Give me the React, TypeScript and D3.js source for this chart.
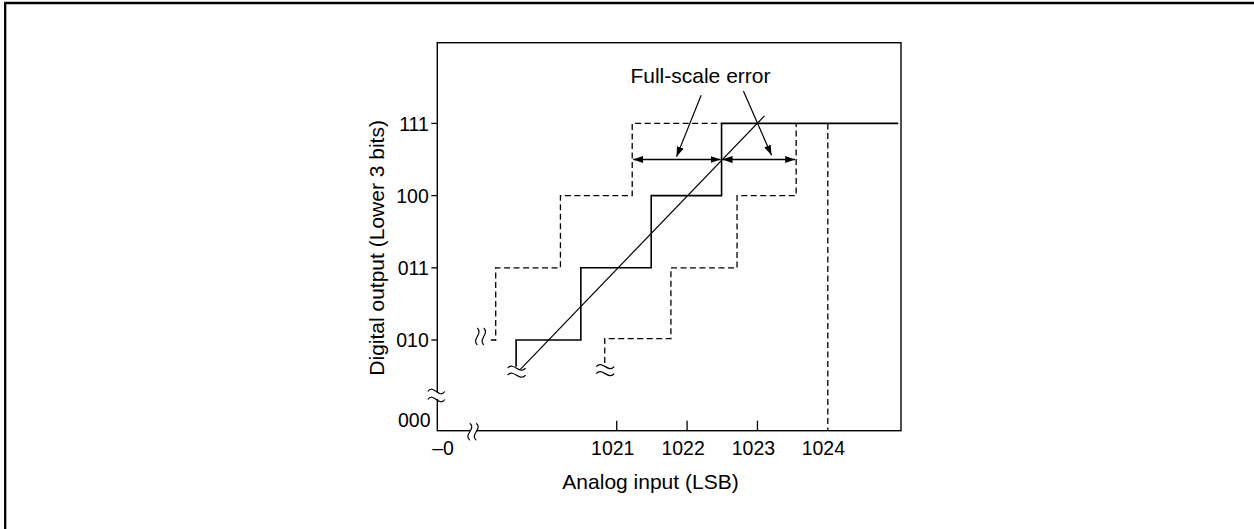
import React from 'react';
import * as d3 from 'd3';

// ---- data ----
const yLevels = [2, 3, 4, 5];
const yCodes = ['010', '011', '100', '111'];
const bottomCode = '000';
const bottomLevel = 0.744;
const xTickValues = [1021, 1022, 1023];
const xTickLabels = ['1021', '1022', '1023'];
const fullScaleValue = 1024;
const fullScaleLabel = '1024';
const originLabel = '\u20130';

const actualSteps: [number, number][] = [
  [1019.57, 1.63], [1019.57, 2], [1020.49, 2], [1020.49, 3], [1021.49, 3],
  [1021.49, 4], [1022.49, 4], [1022.49, 5], [1025.0, 5],
];
const upperLimitSteps: [number, number][] = [
  [1019.21, 2], [1019.28, 2], [1019.28, 3], [1020.2, 3], [1020.2, 4],
  [1021.22, 4], [1021.22, 5], [1022.49, 5],
];
const lowerLimitSteps: [number, number][] = [
  [1020.83, 1.68], [1020.83, 2.02], [1021.77, 2.02], [1021.77, 3], [1022.71, 3],
  [1022.71, 4], [1023.55, 4], [1023.55, 5],
];
const idealLine: [number, number][] = [[1019.63, 1.594], [1023.1, 5.105]];
const errorLevel = 4.5;
const errorSpans: [number, number][] = [[1021.22, 1022.49], [1022.49, 1023.55]];
const calloutText = 'Full-scale error';
const calloutAnchor: [number, number] = [1022.19, 5.555];
const calloutLeaders: [[number, number], [number, number]][] = [
  [[1022.2, 5.39], [1021.85, 4.54]],
  [[1022.8, 5.45], [1023.2, 4.56]],
];
const xTitle = 'Analog input (LSB)';
const yTitle = 'Digital output (Lower 3 bits)';

// ---- layout ----
const W = 1254;
const H = 529;
const FONT = '"Liberation Sans", Arial, Helvetica, sans-serif';

export default function App() {
  const x = d3.scaleLinear().domain([1018.45, 1025.04]).range([437.3, 901]);
  const y = d3.scaleLinear().domain([bottomLevel, 6.118]).range([430.7, 42.7]);
  const line = d3.line<[number, number]>().x((d) => x(d[0])).y((d) => y(d[1]));

  const x0 = x.range()[0];
  const x1 = x.range()[1];
  const yB = y.range()[0];
  const yT = y.range()[1];

  const hWave = (cx: number, cy: number, w: number, h = 8) =>
    `M${cx - w / 2},${cy} C${cx - w / 6},${cy - h} ${cx + w / 6},${cy + h} ${cx + w / 2},${cy}`;
  const vWave = (cx: number, cy: number, hh: number, k = 7) =>
    `M${cx},${cy - hh / 2} C${cx + k},${cy - hh / 6} ${cx - k},${cy + hh / 6} ${cx},${cy + hh / 2}`;

  // break positions derived from the scales
  const solidBreakX = x(actualSteps[0][0]);
  const solidBreakY = y(actualSteps[0][1]);
  const lowerBreakX = x(lowerLimitSteps[0][0]);
  const lowerBreakY = y(lowerLimitSteps[0][1]);
  const upperBreakX = x(upperLimitSteps[0][0]);
  const upperBreakY = y(upperLimitSteps[0][1]);

  return (
    <svg
      width={W}
      height={H}
      style={{ position: 'absolute', left: 0, top: 0, background: '#fff' }}
      fontFamily={FONT}
    >
      <defs>
        <marker id="ah" viewBox="0 0 10 7" refX="10" refY="3.5" markerWidth="10" markerHeight="7"
          markerUnits="userSpaceOnUse" orient="auto-start-reverse">
          <path d="M0,0 L10,3.5 L0,7 Z" fill="#000" />
        </marker>
      </defs>
      <rect x={0} y={0} width={W} height={H} fill="#fff" />
      {/* outer border (top and left visible) */}
      <path d={`M5.2,${H} V3 H${W}`} fill="none" stroke="#000" strokeWidth={2.3} />

      {/* plot frame */}
      <rect x={x0} y={yT} width={x1 - x0} height={yB - yT} fill="none" stroke="#000" strokeWidth={1.4} />

      {/* axis breaks */}
      <rect x={x0 - 3} y={392} width={6} height={7} fill="#fff" />
      <path d={hWave(x0 - 1, 391.5, 17)} fill="none" stroke="#000" strokeWidth={1.2} />
      <path d={hWave(x0 - 1, 399.5, 17)} fill="none" stroke="#000" strokeWidth={1.2} />
      <rect x={470} y={yB - 3} width={6} height={6} fill="#fff" />
      <path d={vWave(469.8, yB + 1, 17)} fill="none" stroke="#000" strokeWidth={1.2} />
      <path d={vWave(476.2, yB + 1, 17)} fill="none" stroke="#000" strokeWidth={1.2} />

      {/* y ticks */}
      {yLevels.map((lv, i) => (
        <g key={lv}>
          <line x1={x0 - 6} x2={x0} y1={y(lv)} y2={y(lv)} stroke="#000" strokeWidth={1.3} />
          <text x={x0 - 8.5} y={y(lv) + 7.2} textAnchor="end" fontSize={19.5}>{yCodes[i]}</text>
        </g>
      ))}
      <text x={x0 - 6.8} y={yB - 4} textAnchor="end" fontSize={19.5}>{bottomCode}</text>

      {/* x ticks */}
      {xTickValues.map((v, i) => (
        <g key={v}>
          <line x1={x(v)} x2={x(v)} y1={yB} y2={yB - 10} stroke="#000" strokeWidth={1.3} />
          <text x={x(v) - 4} y={yB + 24.3} textAnchor="middle" fontSize={19.5}>{xTickLabels[i]}</text>
        </g>
      ))}
      <text x={x(fullScaleValue) - 4.5} y={yB + 24.3} textAnchor="middle" fontSize={19.5}>{fullScaleLabel}</text>
      <text x={x0 + 5.7} y={yB + 24.3} textAnchor="middle" fontSize={19.5}>{originLabel}</text>

      {/* full-scale vertical dashed */}
      <path d={line([[fullScaleValue, 5], [fullScaleValue, bottomLevel]]) || ''} fill="none" stroke="#000"
        strokeWidth={1.3} strokeDasharray="6,3.5" />

      {/* limit staircases (dashed) */}
      <path d={line(upperLimitSteps) || ''} fill="none" stroke="#000" strokeWidth={1.3} strokeDasharray="6,3.5" />
      <path d={line(lowerLimitSteps) || ''} fill="none" stroke="#000" strokeWidth={1.3} strokeDasharray="6,3.5" />

      {/* actual staircase */}
      <path d={line(actualSteps) || ''} fill="none" stroke="#000" strokeWidth={1.6} />

      {/* ideal line */}
      <path d={line(idealLine) || ''} fill="none" stroke="#000" strokeWidth={1.2} />

      {/* breaks on the staircases */}
      <path d={hWave(solidBreakX + 0.5, solidBreakY + 1.5, 18, 7)} fill="none" stroke="#000" strokeWidth={1.2} />
      <path d={hWave(solidBreakX + 0.5, solidBreakY + 8.5, 18, 7)} fill="none" stroke="#000" strokeWidth={1.2} />
      <path d={hWave(lowerBreakX + 0.5, lowerBreakY + 3.5, 18, 7)} fill="none" stroke="#000" strokeWidth={1.2} />
      <path d={hWave(lowerBreakX + 0.5, lowerBreakY + 10.5, 18, 7)} fill="none" stroke="#000" strokeWidth={1.2} />
      <path d={vWave(upperBreakX - 13.5, upperBreakY - 3.5, 17, 6)} fill="none" stroke="#000" strokeWidth={1.2} />
      <path d={vWave(upperBreakX - 7, upperBreakY - 3.5, 17, 6)} fill="none" stroke="#000" strokeWidth={1.2} />

      {/* error span arrows */}
      {errorSpans.map((s, i) => (
        <line key={i} x1={x(s[0]) + 1} x2={x(s[1]) - 1} y1={y(errorLevel)} y2={y(errorLevel)}
          stroke="#000" strokeWidth={1.3} markerStart="url(#ah)" markerEnd="url(#ah)" />
      ))}

      {/* callout */}
      <text x={x(calloutAnchor[0])} y={y(calloutAnchor[1])} textAnchor="middle" fontSize={21}>{calloutText}</text>
      {calloutLeaders.map((l, i) => (
        <line key={i} x1={x(l[0][0])} y1={y(l[0][1])} x2={x(l[1][0])} y2={y(l[1][1])}
          stroke="#000" strokeWidth={1.2} markerEnd="url(#ah)" />
      ))}

      {/* titles */}
      <text x={650.5} y={489.3} textAnchor="middle" fontSize={21}>{xTitle}</text>
      <text transform="translate(384,375.7) rotate(-90)" textAnchor="start" fontSize={21}>{yTitle}</text>
    </svg>
  );
}
